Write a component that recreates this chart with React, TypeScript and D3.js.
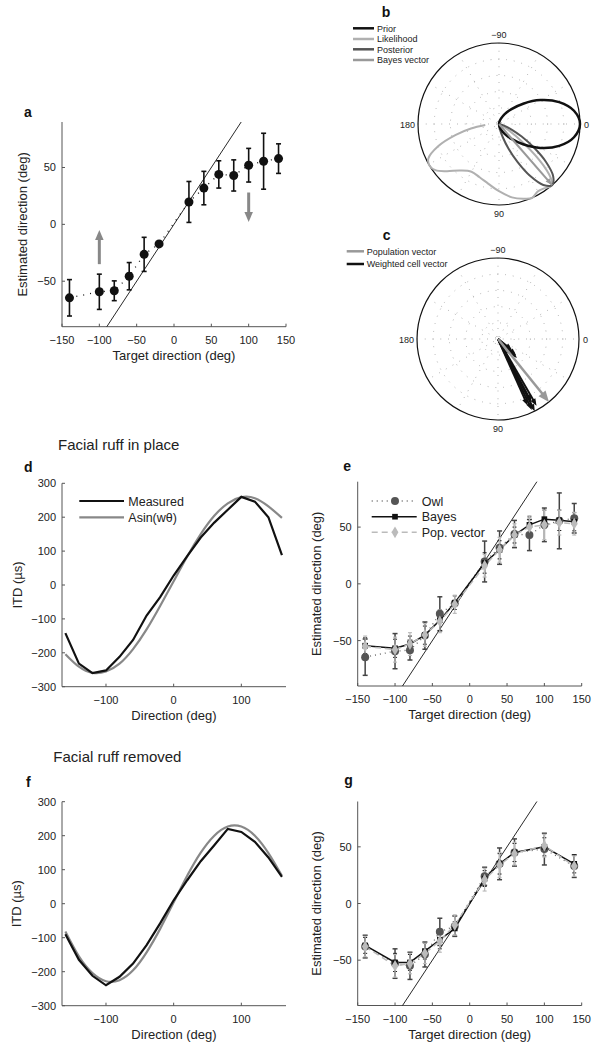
import React from 'react';
import * as d3 from 'd3';

const FONT = '"Liberation Sans", Arial, Helvetica, sans-serif';

// ---------------- data ----------------
// panel a / e : owl behaviour
const targetDirs = [-140, -100, -80, -60, -40, -20, 20, 40, 60, 80, 100, 120, 140];
const owlEst = [-64.6, -59.3, -58.4, -45.6, -26.4, -17.2, 19.7, 31.9, 43.9, 43, 52, 55.5, 57.8];
const owlErr = [16, 15.5, 8.7, 12, 15, 0, 18, 14.7, 12, 13.7, 14.8, 24.6, 13];
const bayesEstE = [-54.5, -56.8, -53, -45.2, -32, -16.6, 18.4, 30, 43, 52, 57, 56, 54.7];
const bayesErrE = [7, 8, 7, 8, 9, 6, 9, 8, 7, 7, 8, 9, 8];
const popEstE = [-55, -58, -53, -45, -33, -18, 16, 30, 43, 50, 52, 54, 53];
const popErrE = [9, 11, 10, 10, 10, 8, 10, 11, 10, 10, 13, 11, 10];

// panel g
const targetDirsG = [-140, -100, -80, -60, -40, -20, 20, 40, 60, 100, 140];
const owlEstG = [-38, -53, -55, -45, -25, -20, 24, 35, 45, 48, 33];
const owlErrG = [10, 13, 12, 11, 12, 9, 8, 14, 12, 14, 10];
const bayesEstG = [-37, -52, -52, -42, -32, -22, 22, 35, 45, 50, 35];
const bayesErrG = [7, 8, 7, 7, 8, 6, 7, 9, 8, 8, 8];
const popEstG = [-38, -55, -53, -44, -33, -19, 21, 34, 44, 51, 33];
const popErrG = [9, 10, 9, 9, 10, 9, 10, 11, 10, 10, 9];

// gray arrows in panel a
const arrowDirs = [-100, 100];
const arrowFrom = [-35, 28];
const arrowTo = [-5, 2];

// identity line ends
const identityEnds = [-90, 90];

// ticks
const estTicks = [-50, 0, 50];
const targetTicks = [-150, -100, -50, 0, 50, 100, 150];
const itdTicks = [-300, -200, -100, 0, 100, 200, 300];
const dirTicks = [-100, 0, 100];

// panels d / f : ITD vs direction
const itdDirs = [-160, -140, -120, -100, -80, -60, -40, -20, 0, 20, 40, 60, 80, 100, 120, 140, 160];
const measuredD = [-142, -232, -260, -252, -212, -162, -90, -36, 28, 85, 140, 184, 222, 260, 246, 200, 88];
const asinD = [-204, -241, -259, -255, -232, -189, -131, -62, 11, 84, 150, 204, 241, 259, 256, 232, 198];
const measuredF = [-90, -165, -212, -240, -215, -176, -122, -58, 10, 69, 125, 172, 220, 211, 182, 136, 79];
const asinF = [-82, -155, -204, -228, -225, -196, -143, -74, 4, 82, 150, 200, 227, 227, 200, 149, 82];

// panel b : polar distributions (angle in deg, normalised radius)
const priorAngles = [-90, -80, -70, -60, -50, -40, -30, -20, -10, 0, 10, 20, 30, 40, 50, 60, 70, 80, 90];
const priorR = [0, 0.03, 0.07, 0.14, 0.24, 0.39, 0.59, 0.79, 0.94, 1, 0.94, 0.79, 0.59, 0.39, 0.24, 0.14, 0.07, 0.03, 0];
const posteriorAngles = [-1, 9, 19, 24, 29, 34, 39, 44, 49, 54, 59, 64, 69, 74, 79, 89, 99];
const posteriorR = [0, 0.01, 0.08, 0.17, 0.32, 0.52, 0.75, 0.93, 1, 0.93, 0.75, 0.52, 0.32, 0.17, 0.08, 0.01, 0];
const likelihoodAngles = [25, 32, 38, 43, 47, 50, 55, 60, 66, 72, 80, 90, 100, 110, 120, 130, 138, 144, 149, 154, 160, 166, 171, 176];
const likelihoodR = [0, 0.12, 0.4, 0.75, 0.95, 1.0, 0.97, 0.96, 1.0, 0.97, 0.92, 0.83, 0.75, 0.7, 0.68, 0.75, 0.87, 0.97, 1.0, 0.97, 0.8, 0.55, 0.35, 0.17];
const bayesVectorAngle = 49;
const bayesVectorLen = 1;

// panel c
const popVectorAngle = 51;
const popVectorLen = 1;
const cellAngles = [38, 42, 45, 48, 60, 62, 63, 64.5, 66];
const cellLens = [0.22, 0.3, 0.33, 0.27, 0.95, 0.88, 1.0, 0.97, 0.9];

const polarLabelAngles = [-90, 0, 90, 180];
const polarLabels = ['\u221290', '0', '90', '180'];
const polarGridR = [0.2, 0.4, 0.6, 0.8];
const polarSpokes = [0, 30, 60, 90, 120, 150];

// ---------------- helpers ----------------
const fmt = (t: number) => (t < 0 ? '\u2212' + Math.abs(t) : String(t));

function arrowHead(x1: number, y1: number, x2: number, y2: number, len: number, width: number) {
  const dx = x2 - x1, dy = y2 - y1;
  const d = Math.hypot(dx, dy) || 1;
  const ux = dx / d, uy = dy / d;
  const px = -uy, py = ux;
  const bx = x2 - ux * len, by = y2 - uy * len;
  return `${x2},${y2} ${bx + (px * width) / 2},${by + (py * width) / 2} ${bx - (px * width) / 2},${by - (py * width) / 2}`;
}

const toA = (deg: number) => ((deg + 90) * Math.PI) / 180;

type Scale = d3.ScaleLinear<number, number>;

function Axes(props: {
  x: Scale; y: Scale; xTicks: number[]; yTicks: number[]; xLabel: string; yLabel: string; yLabelX: number;
}) {
  const { x, y, xTicks, yTicks, xLabel, yLabel, yLabelX } = props;
  const [x0, x1] = x.range();
  const [y0, y1] = y.range();
  const ac = '#555';
  return (
    <g>
      <line x1={x0} y1={y0} x2={x1} y2={y0} stroke={ac} strokeWidth={1} />
      <line x1={x0} y1={y0} x2={x0} y2={y1} stroke={ac} strokeWidth={1} />
      {xTicks.map((t) => (
        <g key={'x' + t}>
          <line x1={x(t)} x2={x(t)} y1={y0} y2={y0 - 3} stroke={ac} />
          <text x={x(t)} y={y0 + 17} textAnchor="middle" fontSize={11} fill="#222">{fmt(t)}</text>
        </g>
      ))}
      {yTicks.map((t) => (
        <g key={'y' + t}>
          <line x1={x0} x2={x0 + 3} y1={y(t)} y2={y(t)} stroke={ac} />
          <text x={x0 - 6} y={y(t) + 4} textAnchor="end" fontSize={11} fill="#222">{fmt(t)}</text>
        </g>
      ))}
      <text x={(x0 + x1) / 2} y={y0 + 33} textAnchor="middle" fontSize={13} fill="#222">{xLabel}</text>
      <text transform={`translate(${yLabelX},${(y0 + y1) / 2}) rotate(-90)`} textAnchor="middle" fontSize={13} fill="#222">{yLabel}</text>
    </g>
  );
}

function ErrorBars(props: { x: Scale; y: Scale; xs: number[]; vs: number[]; es: number[]; color: string; cap: number; width: number }) {
  const { x, y, xs, vs, es, color, cap, width } = props;
  return (
    <g stroke={color} strokeWidth={width}>
      {xs.map((xv, i) => {
        if (!es[i]) return null;
        const cx = x(xv);
        const yt = y(vs[i] + es[i]);
        const yb = y(vs[i] - es[i]);
        return (
          <g key={i}>
            <line x1={cx} x2={cx} y1={yt} y2={yb} />
            <line x1={cx - cap / 2} x2={cx + cap / 2} y1={yt} y2={yt} />
            <line x1={cx - cap / 2} x2={cx + cap / 2} y1={yb} y2={yb} />
          </g>
        );
      })}
    </g>
  );
}

const symCircle = d3.symbol().type(d3.symbolCircle).size(50)() as string;
const symSquare = d3.symbol().type(d3.symbolSquare).size(32)() as string;
const symDiamond = d3.symbol().type(d3.symbolDiamond).size(40)() as string;

function ModelPanel(props: {
  x: Scale; y: Scale; xs: number[];
  owl: number[]; owlE: number[]; bayes: number[]; bayesE: number[]; pop: number[]; popE: number[];
}) {
  const { x, y, xs, owl, owlE, bayes, bayesE, pop, popE } = props;
  const line = (vals: number[]) =>
    d3.line<number>().x((d) => x(d)).y((_, i) => y(vals[i]))(xs) as string;
  return (
    <g>
      <line x1={x(identityEnds[0])} y1={y(identityEnds[0])} x2={x(identityEnds[1])} y2={y(identityEnds[1])} stroke="#111" strokeWidth={0.9} />
      <path d={line(owl)} fill="none" stroke="#666" strokeWidth={1.3} strokeDasharray="1,4" />
      <path d={line(bayes)} fill="none" stroke="#111" strokeWidth={1.5} />
      <path d={line(pop)} fill="none" stroke="#bbb" strokeWidth={1.5} strokeDasharray="6,4" />
      <ErrorBars x={x} y={y} xs={xs} vs={owl} es={owlE} color="#444" cap={5} width={1.5} />
      <ErrorBars x={x} y={y} xs={xs} vs={bayes} es={bayesE} color="#222" cap={4} width={1} />
      <ErrorBars x={x} y={y} xs={xs} vs={pop} es={popE} color="#bbb" cap={4} width={1.2} />
      {xs.map((xv, i) => (
        <path key={'o' + i} d={symCircle} transform={`translate(${x(xv)},${y(owl[i])})`} fill="#555" />
      ))}
      {xs.map((xv, i) => (
        <path key={'b' + i} d={symSquare} transform={`translate(${x(xv)},${y(bayes[i])})`} fill="#111" />
      ))}
      {xs.map((xv, i) => (
        <path key={'p' + i} d={symDiamond} transform={`translate(${x(xv)},${y(pop[i])})`} fill="#bbb" />
      ))}
    </g>
  );
}

function PolarFrame(props: { cx: number; cy: number; R: number }) {
  const { cx, cy, R } = props;
  const rS = d3.scaleLinear().domain([0, 1]).range([0, R]);
  const labelPos = (a: number) => {
    if (a === -90) return { x: cx, y: cy - R - 5, anchor: 'middle' };
    if (a === 90) return { x: cx, y: cy + R + 12, anchor: 'middle' };
    if (a === 0) return { x: cx + R + 4, y: cy + 3.5, anchor: 'start' };
    return { x: cx - R - 3, y: cy + 3.5, anchor: 'end' };
  };
  return (
    <g>
      <g transform={`translate(${cx},${cy})`} fill="none" stroke="#999" strokeWidth={0.9} strokeDasharray="0.8,7">
        {polarGridR.map((r) => (
          <circle key={r} r={rS(r)} />
        ))}
        {polarSpokes.map((a) => {
          const [x1, y1] = d3.pointRadial(toA(a), R);
          return <line key={a} x1={-x1} y1={-y1} x2={x1} y2={y1} />;
        })}
      </g>
      <circle cx={cx} cy={cy} r={R} fill="none" stroke="#111" strokeWidth={1.2} />
      {polarLabelAngles.map((a, i) => {
        const p = labelPos(a);
        return (
          <text key={a} x={p.x} y={p.y} textAnchor={p.anchor as any} fontSize={9} fill="#222">{polarLabels[i]}</text>
        );
      })}
    </g>
  );
}

export default function App() {
  // cartesian scales
  const xA = d3.scaleLinear().domain([-150, 150]).range([62, 286]);
  const yA = d3.scaleLinear().domain([-90, 90]).range([326.7, 122]);
  const xE = d3.scaleLinear().domain([-150, 150]).range([357.7, 581.7]);
  const yE = d3.scaleLinear().domain([-90, 90]).range([686, 481.7]);
  const yG = d3.scaleLinear().domain([-90, 90]).range([1005.5, 801.5]);
  const xD = d3.scaleLinear().domain([-165, 166]).range([62, 286]);
  const yD = d3.scaleLinear().domain([-300, 300]).range([686.7, 483.3]);
  const yF = d3.scaleLinear().domain([-300, 300]).range([1005.7, 801.7]);

  // panel a line
  const owlLineA = d3.line<number>().x((d) => xA(d)).y((_, i) => yA(owlEst[i]))(targetDirs) as string;

  // panel d / f lines
  const lin = (x: Scale, y: Scale, vals: number[], curve: d3.CurveFactory) =>
    d3.line<number>().x((d) => x(d)).y((_, i) => y(vals[i])).curve(curve)(itdDirs) as string;

  // polar
  const bC = { cx: 499, cy: 124, R: 81 };
  const cC = { cx: 498, cy: 339, R: 81 };
  const rB = d3.scaleLinear().domain([0, 1]).range([0, bC.R]);
  const rC = d3.scaleLinear().domain([0, 1]).range([0, cC.R]);
  const radial = (angles: number[], rs: number[], rS: Scale) =>
    d3.lineRadial<number>().angle((d) => toA(d)).radius((_, i) => rS(rs[i])).curve(d3.curveCatmullRom)(angles) as string;

  const bayesEnd = d3.pointRadial(toA(bayesVectorAngle), rB(bayesVectorLen));
  const popEnd = d3.pointRadial(toA(popVectorAngle), rC(popVectorLen));

  return (
    <svg width={600} height={1050} style={{ position: 'absolute', left: 0, top: 0, background: '#fff' }} fontFamily={FONT}>
      <rect x={0} y={0} width={600} height={1050} fill="#fff" />

      {/* ---------- panel a ---------- */}
      <text x={24} y={116.7} fontSize={14} fontWeight="bold" fill="#111">a</text>
      <Axes x={xA} y={yA} xTicks={targetTicks} yTicks={estTicks} xLabel="Target direction (deg)" yLabel="Estimated direction (deg)" yLabelX={27} />
      <line x1={xA(identityEnds[0])} y1={yA(identityEnds[0])} x2={xA(identityEnds[1])} y2={yA(identityEnds[1])} stroke="#111" strokeWidth={0.9} />
      <path d={owlLineA} fill="none" stroke="#111" strokeWidth={1.3} strokeDasharray="1,6" />
      <ErrorBars x={xA} y={yA} xs={targetDirs} vs={owlEst} es={owlErr} color="#111" cap={5} width={1.6} />
      {targetDirs.map((xv, i) => (
        <circle key={i} cx={xA(xv)} cy={yA(owlEst[i])} r={4.5} fill="#111" />
      ))}
      {arrowDirs.map((xv, i) => {
        const x = xA(xv), y1 = yA(arrowFrom[i]), y2 = yA(arrowTo[i]);
        const dir = Math.sign(y2 - y1);
        return (
          <g key={i}>
            <line x1={x} x2={x} y1={y1} y2={y2 - dir * 8} stroke="#888" strokeWidth={3} />
            <polygon points={arrowHead(x, y1, x, y2, 10, 8.5)} fill="#888" />
          </g>
        );
      })}

      {/* ---------- panel b ---------- */}
      <text x={381.7} y={17.3} fontSize={14} fontWeight="bold" fill="#111">b</text>
      <PolarFrame {...bC} />
      <g transform={`translate(${bC.cx},${bC.cy})`} fill="none">
        <path d={radial(likelihoodAngles, likelihoodR, rB)} stroke="#b0b0b0" strokeWidth={2} />
        <path d={radial(posteriorAngles, posteriorR, rB)} stroke="#555" strokeWidth={2} />
        <path d={radial(priorAngles, priorR, rB)} stroke="#111" strokeWidth={2.5} />
        <line x1={0} y1={0} x2={bayesEnd[0]} y2={bayesEnd[1]} stroke="#999" strokeWidth={2} />
        <polygon points={arrowHead(0, 0, bayesEnd[0], bayesEnd[1], 7, 5)} fill="#999" />
      </g>
      {[
        { c: '#111', t: 'Prior', y: 28.3 },
        { c: '#b0b0b0', t: 'Likelihood', y: 39 },
        { c: '#555', t: 'Posterior', y: 49.3 },
        { c: '#999', t: 'Bayes vector', y: 60 },
      ].map((d) => (
        <g key={d.t}>
          <line x1={353} x2={374} y1={d.y} y2={d.y} stroke={d.c} strokeWidth={2.5} />
          <text x={377} y={d.y + 3.2} fontSize={9} fill="#222">{d.t}</text>
        </g>
      ))}

      {/* ---------- panel c ---------- */}
      <text x={382.7} y={239.5} fontSize={14} fontWeight="bold" fill="#111">c</text>
      <PolarFrame {...cC} />
      <g transform={`translate(${cC.cx},${cC.cy})`}>
        {cellAngles.map((a, i) => {
          const e = d3.pointRadial(toA(a), rC(cellLens[i]));
          const head = 7;
          const L = Math.hypot(e[0], e[1]);
          return (
            <g key={i}>
              <line x1={0} y1={0} x2={e[0] * (1 - head / L / 2)} y2={e[1] * (1 - head / L / 2)} stroke="#111" strokeWidth={2} />
              <polygon points={arrowHead(0, 0, e[0], e[1], head, 5.5)} fill="#111" />
            </g>
          );
        })}
        <line x1={0} y1={0} x2={popEnd[0] * 0.93} y2={popEnd[1] * 0.93} stroke="#999" strokeWidth={2.5} />
        <polygon points={arrowHead(0, 0, popEnd[0], popEnd[1], 11, 9)} fill="#999" />
      </g>
      {[
        { c: '#999', t: 'Population vector', y: 251.3 },
        { c: '#111', t: 'Weighted cell vector', y: 264 },
      ].map((d) => (
        <g key={d.t}>
          <line x1={346.7} x2={364} y1={d.y} y2={d.y} stroke={d.c} strokeWidth={2.5} />
          <text x={366.7} y={d.y + 3.2} fontSize={9} fill="#222">{d.t}</text>
        </g>
      ))}

      {/* ---------- panel d ---------- */}
      <text x={58} y={450} fontSize={15} fill="#222">Facial ruff in place</text>
      <text x={24} y={471.7} fontSize={14} fontWeight="bold" fill="#111">d</text>
      <Axes x={xD} y={yD} xTicks={dirTicks} yTicks={itdTicks} xLabel="Direction (deg)" yLabel="ITD (µs)" yLabelX={21.5} />
      <path d={lin(xD, yD, asinD, d3.curveNatural)} fill="none" stroke="#888" strokeWidth={2.2} />
      <path d={lin(xD, yD, measuredD, d3.curveLinear)} fill="none" stroke="#111" strokeWidth={2.2} />
      <line x1={79.3} x2={124} y1={501} y2={501} stroke="#111" strokeWidth={2.2} />
      <text x={128.3} y={505.5} fontSize={12.5} fill="#222">Measured</text>
      <line x1={79.3} x2={124} y1={517.3} y2={517.3} stroke="#888" strokeWidth={2.2} />
      <text x={128.3} y={521.8} fontSize={12.5} fill="#222">Asin(wθ)</text>

      {/* ---------- panel e ---------- */}
      <text x={343.3} y={470.7} fontSize={14} fontWeight="bold" fill="#111">e</text>
      <Axes x={xE} y={yE} xTicks={targetTicks} yTicks={estTicks} xLabel="Target direction (deg)" yLabel="Estimated direction (deg)" yLabelX={321} />
      <ModelPanel x={xE} y={yE} xs={targetDirs} owl={owlEst} owlE={owlErr} bayes={bayesEstE} bayesE={bayesErrE} pop={popEstE} popE={popErrE} />
      <g>
        <line x1={371.7} x2={416.7} y1={501} y2={501} stroke="#666" strokeWidth={1.3} strokeDasharray="1,4" />
        <path d={symCircle} transform="translate(395,501)" fill="#555" />
        <text x={421.7} y={505.5} fontSize={12.5} fill="#222">Owl</text>
        <line x1={371.7} x2={416.7} y1={516.7} y2={516.7} stroke="#111" strokeWidth={1.5} />
        <path d={symSquare} transform="translate(395,516.7)" fill="#111" />
        <text x={421.7} y={521.2} fontSize={12.5} fill="#222">Bayes</text>
        <line x1={371.7} x2={416.7} y1={532.3} y2={532.3} stroke="#bbb" strokeWidth={1.5} strokeDasharray="6,4" />
        <path d={symDiamond} transform="translate(395,532.3)" fill="#bbb" />
        <text x={421.7} y={536.8} fontSize={12.5} fill="#222">Pop. vector</text>
      </g>

      {/* ---------- panel f ---------- */}
      <text x={53.3} y={762} fontSize={15} fill="#222">Facial ruff removed</text>
      <text x={26} y={786.7} fontSize={14} fontWeight="bold" fill="#111">f</text>
      <Axes x={xD} y={yF} xTicks={dirTicks} yTicks={itdTicks} xLabel="Direction (deg)" yLabel="ITD (µs)" yLabelX={21} />
      <path d={lin(xD, yF, asinF, d3.curveNatural)} fill="none" stroke="#888" strokeWidth={2.2} />
      <path d={lin(xD, yF, measuredF, d3.curveLinear)} fill="none" stroke="#111" strokeWidth={2.2} />

      {/* ---------- panel g ---------- */}
      <text x={344.3} y={785} fontSize={14} fontWeight="bold" fill="#111">g</text>
      <Axes x={xE} y={yG} xTicks={targetTicks} yTicks={estTicks} xLabel="Target direction (deg)" yLabel="Estimated direction (deg)" yLabelX={321} />
      <ModelPanel x={xE} y={yG} xs={targetDirsG} owl={owlEstG} owlE={owlErrG} bayes={bayesEstG} bayesE={bayesErrG} pop={popEstG} popE={popErrG} />
    </svg>
  );
}
